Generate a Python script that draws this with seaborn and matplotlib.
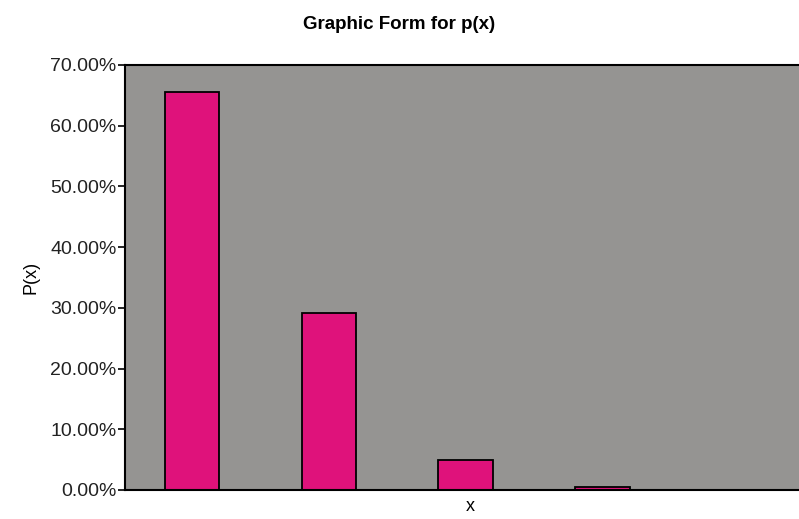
import matplotlib
matplotlib.use("Agg")
import matplotlib.pyplot as plt
import seaborn as sns
import pandas as pd
from matplotlib.ticker import PercentFormatter

x_values = ["0", "1", "2", "3"]
p_values = [65.61, 29.16, 4.86, 0.5]
y_ticks = [0, 10, 20, 30, 40, 50, 60, 70]

sns.set_theme(style="white")
plt.rcParams['font.family'] = ['Liberation Sans', 'DejaVu Sans']
plt.rcParams['text.color'] = 'black'
plt.rcParams['axes.labelcolor'] = 'black'
plt.rcParams['ytick.color'] = 'black'
plt.rcParams['xtick.color'] = 'black'

df = pd.DataFrame({"x": x_values, "p": p_values})

fig = plt.figure(figsize=(7.99, 5.19), dpi=100)
ax = fig.add_axes([0.1564, 0.0559, 0.8436 + 0.02, 0.8189])
ax.set_facecolor("#959492")

sns.barplot(data=df, x="x", y="p", color="#DF127B", saturation=1, width=0.4,
            edgecolor="black", linewidth=1.3, ax=ax)

ax.set_xlim(-0.49, 4.55)
ax.set_ylim(0, 70)
ax.set_yticks(y_ticks)
ax.yaxis.set_major_formatter(PercentFormatter(decimals=2))
ax.set_xticks([])
ax.tick_params(axis="y", direction="out", length=5, width=1.2, color="black",
               labelsize=14, pad=1, left=True, labelcolor="#222222")
for s in ["left", "bottom", "top"]:
    ax.spines[s].set_color("black")
    ax.spines[s].set_linewidth(1.5)
ax.spines["right"].set_visible(False)

ax.set_xlabel("x", fontsize=13, labelpad=6, color="black")
ax.set_ylabel("P(x)", fontsize=13, labelpad=8, color="black")
fig.suptitle("Graphic Form for p(x)", fontsize=13.5, fontweight="bold", y=0.97, color="black")

fig.savefig("out.png", dpi=100)
